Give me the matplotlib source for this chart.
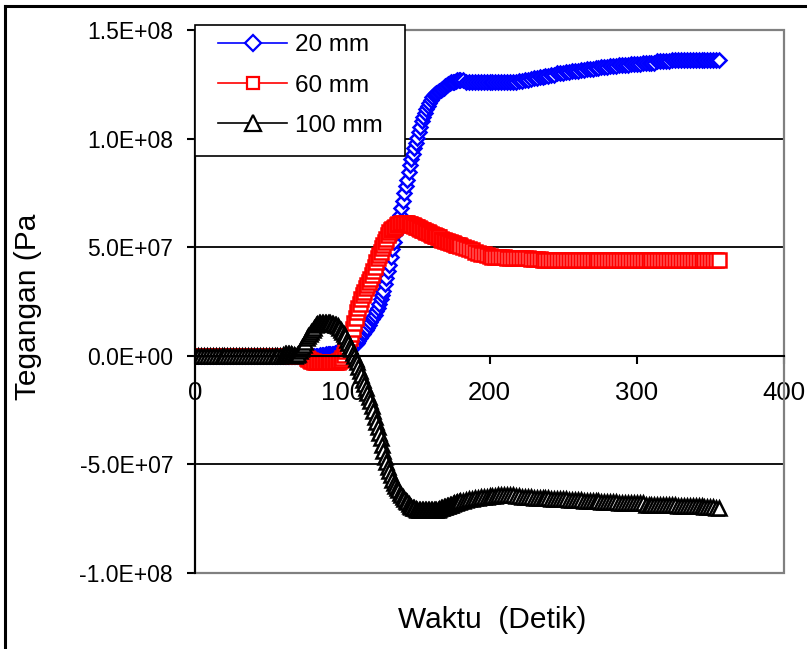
import numpy as np
import matplotlib
matplotlib.use('Agg')
import matplotlib.pyplot as plt
from matplotlib.ticker import FuncFormatter
from matplotlib.patches import Rectangle
from matplotlib.lines import Line2D

plt.rcParams['font.family'] = ['Liberation Sans', 'DejaVu Sans']

# sample times (detik): 2 s steps, 1 s steps through the fast change
waktu = list(range(0, 60, 2)) + list(range(60, 181)) + list(range(182, 357, 2))

# tegangan in units of 1E+07 Pa
teg_20mm = [
    # t 0-58
    0, 0, 0, 0, 0, 0, 0, 0, 0, 0,
    0, 0, 0, 0, 0, 0, 0, 0, 0, 0,
    0, 0, 0, 0, 0, 0, 0, 0, 0, 0,
    # t 60-180
    0, 0, 0, 0, 0, 0, 0, 0, 0, 0,
    0, 0, 0, 0, 0, 0, 0, 0, 0, 0,
    0, 0, 0, 0, 0, 0.05, 0.05, 0.05, 0.05, 0.1,
    0.1, 0.1, 0.1, 0.1, 0.1, 0.12, 0.15, 0.17, 0.2, 0.2,
    0.2, 0.22, 0.25, 0.27, 0.3, 0.35, 0.4, 0.45, 0.5, 0.55,
    0.6, 0.7, 0.8, 0.9, 1.0, 1.1, 1.2, 1.3, 1.4, 1.55,
    1.7, 1.8, 1.9, 2.05, 2.2, 2.4, 2.6, 2.8, 3.0, 3.3,
    3.6, 3.9, 4.2, 4.55, 4.9, 5.25, 5.6, 5.9, 6.2, 6.5,
    6.8, 7.15, 7.5, 7.8, 8.1, 8.45, 8.8, 9.05, 9.3, 9.55,
    9.8, 10.05, 10.3, 10.55, 10.8, 11.0, 11.2, 11.35, 11.5, 11.65,
    11.8, 11.9, 12.0, 12.05, 12.1, 12.15, 12.2, 12.25, 12.3, 12.35,
    12.4, 12.45, 12.5, 12.55, 12.6, 12.6, 12.6, 12.65, 12.7, 12.7, 12.7,
    # t 182-356
    12.7, 12.6, 12.6, 12.6, 12.6, 12.6, 12.6, 12.6, 12.6,
    12.6, 12.6, 12.6, 12.6, 12.6, 12.6, 12.6, 12.6, 12.6, 12.6,
    12.65, 12.65, 12.7, 12.7, 12.75, 12.8, 12.8, 12.85, 12.85, 12.9,
    12.9, 12.95, 12.95, 13.0, 13.0, 13.0, 13.05, 13.05, 13.1, 13.1,
    13.1, 13.15, 13.15, 13.2, 13.2, 13.2, 13.25, 13.25, 13.3, 13.3,
    13.3, 13.35, 13.35, 13.35, 13.4, 13.4, 13.4, 13.4, 13.45, 13.45,
    13.45, 13.45, 13.5, 13.5, 13.5, 13.5, 13.5, 13.55, 13.55, 13.55,
    13.55, 13.55, 13.6, 13.6, 13.6, 13.6, 13.6, 13.6, 13.6, 13.6,
    13.6, 13.6, 13.6, 13.6, 13.6, 13.6, 13.6, 13.6, 13.6,
]

teg_60mm = [
    # t 0-58
    0, 0, 0, 0, 0, 0, 0, 0, 0, 0,
    0, 0, 0, 0, 0, 0, 0, 0, 0, 0,
    0, 0, 0, 0, 0, 0, 0, 0, 0, 0,
    # t 60-180
    0, 0, 0, 0, 0, 0, 0, 0, 0, 0,
    0, 0, 0, 0, 0, 0, -0.1, -0.15, -0.2, -0.22,
    -0.25, -0.28, -0.3, -0.3, -0.3, -0.3, -0.3, -0.3, -0.3, -0.3,
    -0.3, -0.3, -0.3, -0.3, -0.3, -0.3, -0.3, -0.28, -0.25, -0.2,
    -0.1, 0.05, 0.2, 0.4, 0.6, 0.8, 1.0, 1.25, 1.5, 1.75,
    2.0, 2.2, 2.4, 2.6, 2.8, 2.95, 3.1, 3.25, 3.4, 3.55,
    3.7, 3.9, 4.1, 4.3, 4.5, 4.65, 4.8, 4.95, 5.1, 5.25,
    5.4, 5.55, 5.7, 5.78, 5.85, 5.9, 5.95, 6.0, 6.05, 6.08,
    6.1, 6.1, 6.1, 6.1, 6.1, 6.08, 6.05, 6.02, 6.0, 5.98,
    5.95, 5.92, 5.9, 5.85, 5.8, 5.78, 5.75, 5.72, 5.7, 5.65,
    5.6, 5.58, 5.55, 5.52, 5.5, 5.48, 5.45, 5.4, 5.35, 5.32,
    5.3, 5.28, 5.25, 5.22, 5.2, 5.18, 5.15, 5.12, 5.1, 5.08, 5.05,
    # t 182-356
    5.0, 4.95, 4.9, 4.85, 4.8, 4.75, 4.7, 4.7, 4.65,
    4.6, 4.55, 4.55, 4.55, 4.55, 4.55, 4.5, 4.5, 4.5, 4.5,
    4.5, 4.5, 4.5, 4.5, 4.45, 4.45, 4.45, 4.45, 4.4, 4.4,
    4.4, 4.4, 4.4, 4.4, 4.4, 4.4, 4.4, 4.4, 4.4, 4.4,
    4.4, 4.4, 4.4, 4.4, 4.4, 4.4, 4.4, 4.4, 4.4, 4.4,
    4.4, 4.4, 4.4, 4.4, 4.4, 4.4, 4.4, 4.4, 4.4, 4.4,
    4.4, 4.4, 4.4, 4.4, 4.4, 4.4, 4.4, 4.4, 4.4, 4.4,
    4.4, 4.4, 4.4, 4.4, 4.4, 4.4, 4.4, 4.4, 4.4, 4.4,
    4.4, 4.4, 4.4, 4.4, 4.4, 4.4, 4.4, 4.4, 4.4,
]

teg_100mm = [
    # t 0-58
    0, 0, 0, 0, 0, 0, 0, 0, 0, 0,
    0, 0, 0, 0, 0, 0, 0, 0, 0, 0,
    0, 0, 0, 0, 0, 0, 0, 0, 0, 0,
    # t 60-180
    0.05, 0.08, 0.1, 0.1, 0.1, 0.08, 0.05, 0.02, 0.0, 0.05,
    0.1, 0.2, 0.3, 0.4, 0.5, 0.65, 0.8, 0.9, 1.0, 1.1,
    1.2, 1.3, 1.4, 1.45, 1.5, 1.5, 1.5, 1.5, 1.5, 1.5,
    1.5, 1.5, 1.5, 1.48, 1.45, 1.43, 1.4, 1.35, 1.3, 1.2,
    1.1, 1.0, 0.9, 0.75, 0.6, 0.45, 0.3, 0.15, 0.0, -0.15,
    -0.3, -0.5, -0.7, -0.9, -1.1, -1.3, -1.5, -1.7, -1.9, -2.1,
    -2.3, -2.55, -2.8, -3.05, -3.3, -3.55, -3.8, -4.1, -4.4, -4.65,
    -4.9, -5.1, -5.3, -5.5, -5.7, -5.85, -6.0, -6.1, -6.2, -6.3,
    -6.4, -6.5, -6.6, -6.68, -6.75, -6.82, -6.9, -6.95, -7.0, -7.02,
    -7.05, -7.08, -7.1, -7.1, -7.1, -7.1, -7.1, -7.1, -7.1, -7.1,
    -7.1, -7.1, -7.1, -7.1, -7.1, -7.08, -7.05, -7.02, -7.0, -6.98,
    -6.95, -6.92, -6.9, -6.88, -6.85, -6.82, -6.8, -6.78, -6.75, -6.72, -6.7,
    # t 182-356
    -6.7, -6.65, -6.6, -6.6, -6.55, -6.55, -6.5, -6.5, -6.5,
    -6.45, -6.45, -6.45, -6.4, -6.4, -6.4, -6.4, -6.4, -6.4, -6.45,
    -6.45, -6.5, -6.5, -6.5, -6.5, -6.55, -6.55, -6.55, -6.55, -6.55,
    -6.55, -6.6, -6.6, -6.6, -6.6, -6.6, -6.6, -6.65, -6.65, -6.65,
    -6.65, -6.65, -6.7, -6.7, -6.7, -6.7, -6.7, -6.7, -6.75, -6.75,
    -6.75, -6.75, -6.75, -6.75, -6.8, -6.8, -6.8, -6.8, -6.8, -6.8,
    -6.8, -6.8, -6.8, -6.85, -6.85, -6.85, -6.85, -6.85, -6.85, -6.85,
    -6.85, -6.85, -6.85, -6.85, -6.9, -6.9, -6.9, -6.9, -6.9, -6.9,
    -6.9, -6.9, -6.9, -6.95, -6.95, -6.95, -6.95, -7.0, -7.0,
]

labels = ['20 mm', '60 mm', '100 mm']
colors = ['#0000FF', '#FF0000', '#000000']
markers = ['D', 's', '^']
msizes = [7.2, 9.5, 10.2]
leg_msizes = [8.5, 9.0, 12.0]
y_ticks = [-1.0e8, -5.0e7, 0.0, 5.0e7, 1.0e8, 1.5e8]
x_ticks = [0, 100, 200, 300, 400]

fig = plt.figure(figsize=(8.07, 6.49), dpi=100)
ax = fig.add_axes([195 / 807, 1 - 573 / 649, 589 / 807, 543 / 649])

series = [teg_20mm, teg_60mm, teg_100mm]
for vals, lab, col, mk, ms in zip(series, labels, colors, markers, msizes):
    y = np.array(vals) * 1e7
    ax.plot(waktu, y, color=col, lw=1.2, marker=mk, ms=ms, mfc='white',
            mec=col, mew=1.8, label=lab)

ax.set_xlim(0, 400)
ax.set_ylim(-1.0e8, 1.5e8)
ax.set_xticks(x_ticks)
ax.set_yticks(y_ticks)
ax.yaxis.set_major_formatter(FuncFormatter(lambda v, p: f'{v:.1E}'))

ax.set_axisbelow(True)
ax.grid(axis='y', color='black', lw=1.3)
ax.grid(axis='x', visible=False)

ax.spines['top'].set_visible(False)
ax.spines['right'].set_visible(False)
ax.spines['bottom'].set_position(('data', 0))
ax.spines['bottom'].set_linewidth(1.5)
ax.spines['left'].set_linewidth(1.5)

ax.tick_params(axis='y', direction='out', length=5.8, width=1.5, pad=10, labelsize=16.5)
ax.tick_params(axis='x', direction='out', length=5.8, width=1.5, pad=12.5, labelsize=18.5)

# gray plot area border
ax.add_patch(Rectangle((0, 0), 1, 1, transform=ax.transAxes, fill=False,
                       edgecolor='#808080', lw=1.6, zorder=1, clip_on=False))

ax.set_xlabel('Waktu  (Detik)', fontsize=21.5)
ax.xaxis.set_label_coords(0.504, -0.087)
ax.xaxis.label.set_va('center')
ax.set_ylabel('Tegangan (Pa', fontsize=21.5)
ax.yaxis.set_label_coords(-0.2835, 0.49)
ax.yaxis.label.set_va('center')

# legend box drawn separately so its padding can match
ax.add_patch(Rectangle((195 / 807, 1 - 156 / 649), 210 / 807, 131 / 649,
                       transform=fig.transFigure, facecolor='white',
                       edgecolor='black', lw=1.2, zorder=4, clip_on=False))
leg = ax.legend(loc='upper left', bbox_to_anchor=(218 / 807, 1 - 34 / 649),
                bbox_transform=fig.transFigure, fontsize=17.5, frameon=False,
                borderaxespad=0, borderpad=0, handlelength=2.85,
                handletextpad=0.33, labelspacing=0.76, numpoints=1)
leg.set_zorder(5)
for h, ms in zip(leg.legend_handles, leg_msizes):
    h.set_markersize(ms)
    h.set_markeredgewidth(1.6)

# outer chart frame (left and top edges visible)
fig.add_artist(Line2D([5 / 807, 5 / 807], [0, 1 - 6 / 649], color='black', lw=2.2,
                      transform=fig.transFigure))
fig.add_artist(Line2D([5 / 807, 1], [1 - 6 / 649, 1 - 6 / 649], color='black', lw=2.2,
                      transform=fig.transFigure))

fig.savefig('out.png', dpi=100)
